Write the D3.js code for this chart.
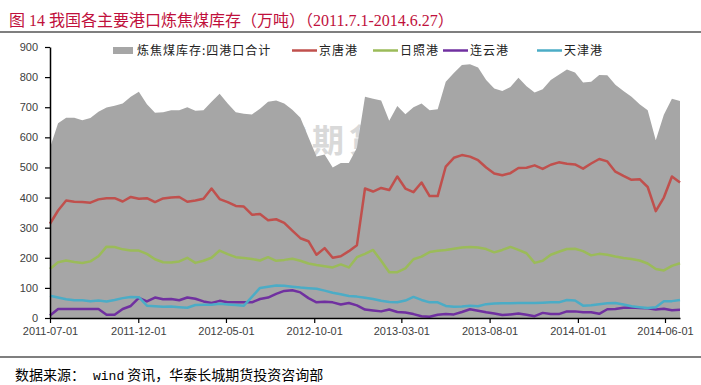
<!DOCTYPE html>
<html>
<head>
<meta charset="utf-8">
<script src="https://cdn.jsdelivr.net/npm/d3@7"></script>
<style>
body { margin: 0; background: #fff; }
svg { display: block; }
</style>
</head>
<body>
<svg id="chart" width="701" height="385"></svg>
<script>
// Data: two-weekly readings, 2011-07-01 .. 2014-06-27
var startDate = new Date(2011, 6, 1);
var stepDays = 14;

var seriesNames = ["炼焦煤库存:四港口合计", "京唐港", "日照港", "连云港", "天津港"];

var total = [565, 647, 665, 665, 657, 664, 685, 699, 705, 712,
    735, 751, 710, 682, 683, 690, 690, 700, 688, 690,
    718, 745, 712, 683, 678, 676, 695, 718, 722, 712,
    692, 665, 600, 536, 543, 500, 515, 515, 565, 735,
    728, 722, 655, 704, 677, 700, 712, 690, 693, 785,
    814, 840, 843, 832, 790, 762, 754, 767, 798, 770,
    749, 760, 790, 808, 825, 815, 782, 785, 807, 806,
    775, 754, 735, 710, 690, 590, 675, 728, 721];

var jingtang = [313, 357, 390, 386, 385, 383, 394, 398, 398, 387,
    402, 396, 398, 385, 397, 400, 402, 386, 390, 396,
    430, 395, 385, 372, 370, 343, 345, 325, 328, 316,
    290, 265, 255, 210, 232, 200, 205, 222, 242, 430,
    420, 432, 425, 470, 430, 418, 450, 405, 405, 503,
    532, 541, 536, 524, 500, 480, 474, 481, 498, 499,
    507, 495, 509, 517, 512, 510, 496, 513, 528, 520,
    486, 472, 459, 461, 435, 355, 400, 470, 450];

var rizhao = [163, 185, 191, 186, 183, 188, 205, 237, 236, 228,
    224, 224, 213, 195, 185, 184, 188, 200, 183, 190,
    200, 224, 212, 202, 199, 196, 191, 202, 190, 193,
    197, 190, 181, 176, 172, 168, 178, 168, 202, 213,
    226, 190, 152, 152, 165, 195, 204, 219, 223, 226,
    230, 234, 236, 234, 229, 218, 226, 236, 226, 215,
    183, 190, 210, 220, 229, 230, 222, 208, 213, 210,
    204, 199, 196, 191, 181, 163, 158, 173, 182];

var lianyun = [8, 30, 30, 30, 30, 30, 30, 11, 11, 30,
    40, 67, 55, 68, 62, 63, 59, 68, 64, 55,
    50, 57, 52, 52, 52, 52, 63, 68, 80, 90,
    92, 85, 66, 52, 54, 52, 45, 50, 42, 28,
    25, 22, 28, 20, 18, 13, 6, 4, 11, 13,
    12, 20, 29, 24, 19, 15, 10, 12, 15, 11,
    6, 17, 13, 13, 22, 22, 19, 19, 14, 29,
    30, 34, 35, 33, 32, 28, 31, 26, 27];

var tianjin = [74, 68, 62, 59, 59, 56, 58, 55, 60, 66,
    70, 69, 41, 39, 37, 38, 36, 34, 43, 44,
    44, 47, 45, 43, 41, 70, 100, 104, 108, 107,
    104, 101, 99, 97, 91, 84, 79, 73, 71, 67,
    63, 57, 53, 52, 58, 70, 60, 52, 52, 40,
    37, 38, 41, 39, 46, 48, 49, 49, 50, 50,
    50, 51, 52, 52, 60, 58, 41, 42, 46, 49,
    50, 45, 39, 36, 33, 36, 56, 56, 60];

var yTicks = [0, 100, 200, 300, 400, 500, 600, 700, 800, 900];
var xTickLabels = ["2011-07-01", "2011-12-01", "2012-05-01", "2012-10-01",
    "2013-03-01", "2013-08-01", "2014-01-01", "2014-06-01"];

var colors = ["#a6a6a6", "#c0504d", "#9bbb59", "#7030a0", "#4bacc6"];

// Build
var parseDate = d3.timeParse("%Y-%m-%d");
var dates = total.map(function(d, i) { return d3.timeDay.offset(startDate, i * stepDays); });

function rows(values) {
    return values.map(function(v, i) { return {date: dates[i], v: v}; });
}

var svg = d3.select("#chart");
var margin = {left: 50, right: 21, top: 47, bottom: 67};
var W = 701, H = 385;

var x = d3.scaleTime()
    .domain([dates[0], dates[dates.length - 1]])
    .range([margin.left, W - margin.right]);
var y = d3.scaleLinear()
    .domain([0, 900])
    .range([H - margin.bottom, margin.top]);

// Title
svg.append("text")
    .attr("x", 9)
    .attr("y", 26)
    .style("font-family", "'Liberation Serif', 'Noto Sans CJK SC', serif")
    .style("font-size", "16px")
    .style("fill", "#c0103c")
    .text("图 14 我国各主要港口炼焦煤库存（万吨）（2011.7.1-2014.6.27）");

svg.append("line")
    .attr("x1", 0).attr("x2", W)
    .attr("y1", 32).attr("y2", 32)
    .style("stroke", "#000").style("stroke-width", 1.2);

// Watermark (behind the area)
svg.append("text")
    .attr("x", 164)
    .attr("y", 152)
    .style("font-family", "'Noto Sans CJK SC', sans-serif")
    .style("font-size", "32px")
    .style("font-weight", "bold")
    .style("letter-spacing", "5px")
    .style("fill", "#d9d9d9")
    .text("华泰长城期货");

// Area
var area = d3.area()
    .x(function(d) { return x(d.date); })
    .y0(y(0))
    .y1(function(d) { return y(d.v); });

svg.append("path")
    .attr("d", area(rows(total)))
    .style("fill", colors[0]);

// Lines
var line = d3.line()
    .x(function(d) { return x(d.date); })
    .y(function(d) { return y(d.v); });

[jingtang, rizhao, lianyun, tianjin].forEach(function(s, k) {
    svg.append("path")
        .attr("d", line(rows(s)))
        .style("fill", "none")
        .style("stroke", colors[k + 1])
        .style("stroke-width", 2.5)
        .style("stroke-linejoin", "round");
});

// Axes
var yAxis = d3.axisLeft(y).tickValues(yTicks).tickSize(5).tickSizeOuter(0).tickPadding(7);
var gy = svg.append("g")
    .attr("transform", "translate(" + margin.left + ",0)")
    .call(yAxis);

var xAxis = d3.axisBottom(x)
    .tickValues(xTickLabels.map(parseDate))
    .tickFormat(d3.timeFormat("%Y-%m-%d"))
    .tickSize(5).tickSizeOuter(0).tickPadding(4);
var gx = svg.append("g")
    .attr("transform", "translate(0," + y(0) + ")")
    .call(xAxis);

[gx, gy].forEach(function(g) {
    g.select(".domain").style("stroke", "#000").style("stroke-width", 1.5);
    g.selectAll(".tick line").style("stroke", "#000").style("stroke-width", 1.2);
    g.selectAll(".tick text")
        .style("font-family", "'Liberation Sans', Arial, sans-serif")
        .style("font-size", "11px")
        .style("fill", "#404040");
});

// Legend
var legendX = [113, 292, 373, 443, 537];
var legend = svg.append("g");
seriesNames.forEach(function(name, k) {
    var lx = legendX[k];
    if (k === 0) {
        legend.append("rect")
            .attr("x", lx).attr("y", 47).attr("width", 20).attr("height", 7)
            .style("fill", colors[0]);
        lx += 24;
    } else {
        legend.append("line")
            .attr("x1", lx).attr("x2", lx + 25)
            .attr("y1", 50.5).attr("y2", 50.5)
            .style("stroke", colors[k]).style("stroke-width", 2.5);
        lx += 27;
    }
    legend.append("text")
        .attr("x", lx).attr("y", 55)
        .style("font-family", "'Noto Sans CJK SC', sans-serif")
        .style("font-size", "12px")
        .style("letter-spacing", "1px")
        .style("fill", "#222")
        .text(name);
});

// Source line
svg.append("line")
    .attr("x1", 0).attr("x2", W)
    .attr("y1", 357).attr("y2", 357)
    .style("stroke", "#000").style("stroke-width", 1.2);

var src = svg.append("text")
    .attr("x", 15).attr("y", 380)
    .style("font-family", "'Noto Sans CJK SC', sans-serif")
    .style("font-size", "14px")
    .style("fill", "#000");
src.append("tspan").text("数据来源：");
src.append("tspan").attr("dx", 8)
    .style("font-family", "'Liberation Mono', monospace")
    .style("font-size", "13px")
    .text("wind");
src.append("tspan").attr("dx", 3).text("资讯，华泰长城期货投资咨询部");
</script>
</body>
</html>
